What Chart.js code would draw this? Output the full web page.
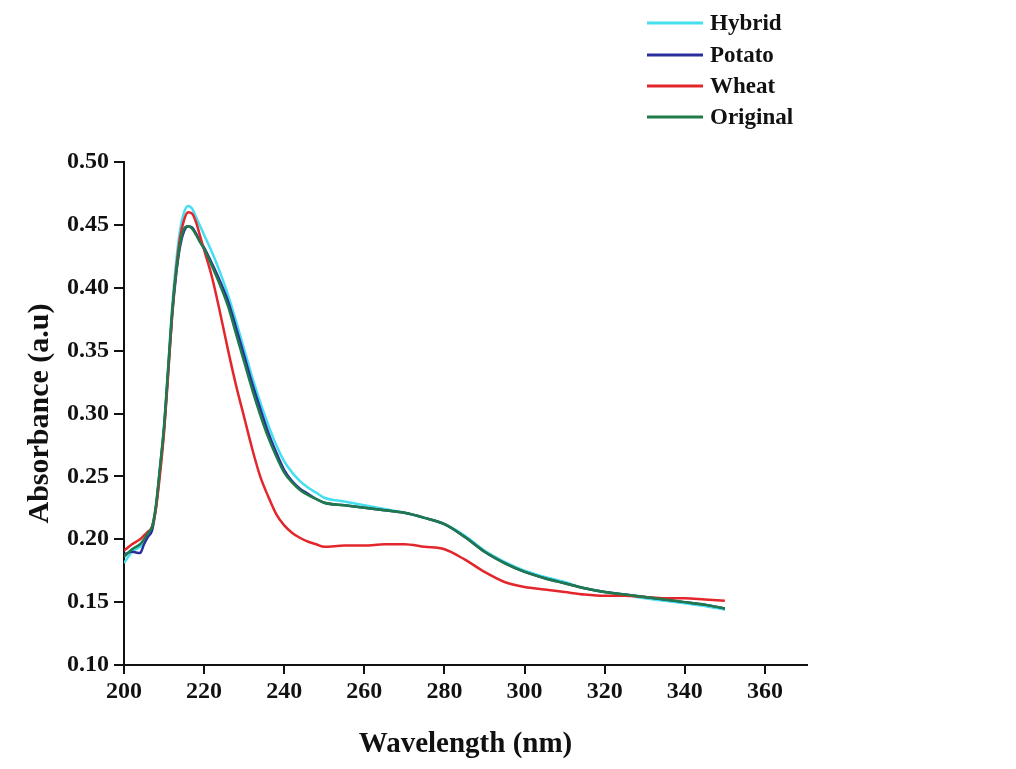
<!DOCTYPE html>
<html>
<head>
<meta charset="utf-8">
<script src="https://cdn.jsdelivr.net/npm/chart.js@4"></script>
<style>
  html, body { margin: 0; padding: 0; background: #ffffff; }
  #wrap { width: 1016px; height: 769px; position: relative; }
</style>
</head>
<body>
<div id="wrap"><canvas id="c"></canvas></div>
<script>
// ---- data ----
const wavelengths = [200,202,204,205,206,207,208,209,210,211,212,213,214,215,216,217,218,219,220,222,224,226,228,230,232,234,236,238,240,242,244,246,248,250,255,260,265,270,275,280,285,290,295,300,305,310,315,320,325,330,335,340,345,350];

const hybrid = [0.181,0.190,0.194,0.198,0.203,0.208,0.226,0.257,0.290,0.336,0.384,0.420,0.446,0.460,0.465,0.463,0.456,0.449,0.442,0.428,0.412,0.394,0.373,0.351,0.329,0.309,0.291,0.275,0.262,0.253,0.246,0.241,0.237,0.233,0.230,0.227,0.224,0.221,0.217,0.212,0.203,0.191,0.182,0.175,0.170,0.166,0.161,0.158,0.156,0.153,0.151,0.149,0.147,0.144];

const potato = [0.188,0.190,0.189,0.196,0.202,0.207,0.226,0.256,0.288,0.332,0.377,0.410,0.433,0.445,0.449,0.448,0.443,0.437,0.432,0.419,0.405,0.389,0.368,0.346,0.324,0.304,0.285,0.269,0.255,0.246,0.240,0.236,0.232,0.229,0.227,0.225,0.223,0.221,0.217,0.212,0.202,0.190,0.181,0.174,0.169,0.165,0.161,0.158,0.156,0.154,0.152,0.150,0.148,0.145];

const wheat = [0.191,0.196,0.200,0.203,0.206,0.210,0.225,0.252,0.285,0.330,0.378,0.414,0.440,0.454,0.460,0.459,0.452,0.441,0.430,0.408,0.380,0.350,0.322,0.297,0.272,0.250,0.234,0.220,0.211,0.205,0.201,0.198,0.196,0.194,0.195,0.195,0.196,0.196,0.194,0.192,0.184,0.174,0.166,0.162,0.160,0.158,0.156,0.155,0.155,0.154,0.153,0.153,0.152,0.151];

const original = [0.186,0.192,0.196,0.200,0.205,0.210,0.228,0.258,0.290,0.335,0.380,0.412,0.435,0.447,0.449,0.447,0.442,0.436,0.431,0.417,0.402,0.385,0.363,0.341,0.319,0.299,0.281,0.266,0.253,0.245,0.239,0.235,0.232,0.229,0.227,0.225,0.223,0.221,0.217,0.212,0.202,0.190,0.181,0.174,0.169,0.165,0.161,0.158,0.156,0.154,0.152,0.150,0.148,0.145];

const seriesLabels = ["Hybrid", "Potato", "Wheat", "Original"];
const xTickValues = [200,220,240,260,280,300,320,340,360];
const yTickValues = [0.10,0.15,0.20,0.25,0.30,0.35,0.40,0.45,0.50];
const xTitle = "Wavelength (nm)";
const yTitle = "Absorbance (a.u)";

// ---- styling ----
const colors = ["#45dff0", "#2b2f9e", "#e3262c", "#1f7a4a"];
const serif = "'Liberation Serif', 'Times New Roman', serif";

const toPoints = arr => wavelengths.map((w, i) => ({ x: w, y: arr[i] }));
const allSeries = [hybrid, potato, wheat, original];

const datasets = allSeries.map((s, i) => ({
  label: seriesLabels[i],
  data: toPoints(s),
  borderColor: colors[i],
  backgroundColor: colors[i],
  borderWidth: 2.5,
  pointRadius: 0,
  tension: 0.3,
  cubicInterpolationMode: 'monotone',
  fill: false,
  order: 4 - i
}));

const legendPlugin = {
  id: 'sideLegend',
  afterDraw(chart) {
    const ctx = chart.ctx;
    const rows = [23, 55, 86, 117];
    ctx.save();
    chart.data.datasets.forEach((ds, i) => {
      const y = rows[i];
      ctx.strokeStyle = ds.borderColor;
      ctx.lineWidth = 3;
      ctx.beginPath();
      ctx.moveTo(647, y);
      ctx.lineTo(703, y);
      ctx.stroke();
      ctx.fillStyle = '#111';
      ctx.font = "bold 23px " + serif;
      ctx.textBaseline = 'middle';
      ctx.textAlign = 'left';
      ctx.fillText(ds.label, 710, y + 1);
    });
    ctx.restore();
  }
};

new Chart(document.getElementById('c'), {
  type: 'line',
  data: { datasets },
  options: {
    responsive: true,
    maintainAspectRatio: false,
    animation: false,
    layout: { padding: { left: 0, right: 209, top: 162, bottom: 0 } },
    plugins: { legend: { display: false }, tooltip: { enabled: false } },
    scales: {
      x: {
        type: 'linear',
        min: 200,
        max: 370.5,
        afterBuildTicks: s => { s.ticks = xTickValues.map(v => ({ value: v })); },
        afterFit: s => { s.height = 104; },
        border: { display: true, color: '#111', width: 2 },
        grid: { display: true, drawOnChartArea: false, drawTicks: true, tickLength: 9, color: '#111', lineWidth: 2 },
        ticks: { color: '#111', padding: 3, font: { family: serif, size: 24, weight: 'bold' }, maxRotation: 0 },
        title: { display: true, text: xTitle, color: '#111', padding: { top: 0, bottom: 7 }, font: { family: serif, size: 29, weight: 'bold' } }
      },
      y: {
        type: 'linear',
        min: 0.10,
        max: 0.50,
        afterBuildTicks: s => { s.ticks = yTickValues.map(v => ({ value: v })); },
        afterFit: s => { s.width = 124; },
        border: { display: true, color: '#111', width: 2 },
        grid: { display: true, drawOnChartArea: false, drawTicks: true, tickLength: 10, color: '#111', lineWidth: 2 },
        ticks: { color: '#111', padding: 5, font: { family: serif, size: 24, weight: 'bold' }, callback: v => Number(v).toFixed(2) },
        title: { display: true, text: yTitle, color: '#111', padding: { top: 22, bottom: 0 }, font: { family: serif, size: 30, weight: 'bold' } }
      }
    }
  },
  plugins: [legendPlugin]
});
</script>
</body>
</html>
